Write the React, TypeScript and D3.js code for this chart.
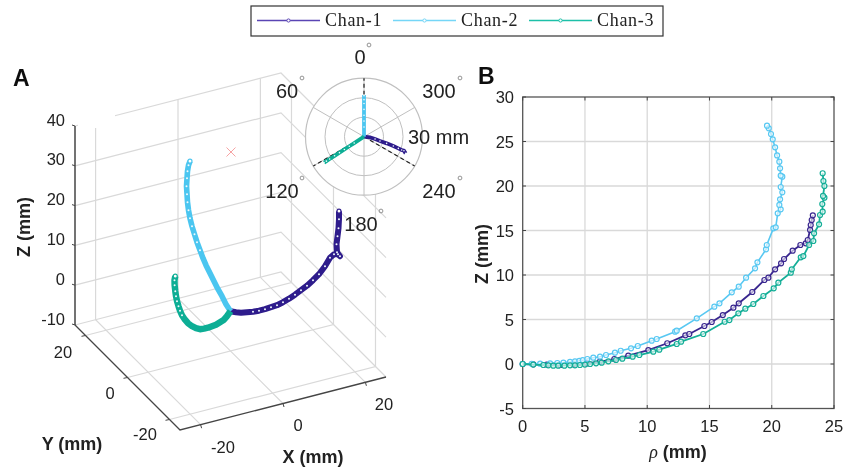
import React from "react";
import * as d3 from "d3";

// ---------- Panel B: rho / z series ----------
const chan1Rho = [0, 0.85, 1.93, 3, 4.07, 5.14, 6.2, 7.36, 8.48, 10.09, 11.61, 13.06, 13.38, 14.59, 15.18, 16.07, 16.92, 17.35, 18.44, 19.41, 19.73, 20.27, 20.75, 20.99, 21.68, 22.3, 22.73, 22.89, 23.08, 23.13, 23.21, 23.3];
const chan1Z = [0, -0.04, -0.07, -0.11, -0.04, 0.07, 0.26, 0.56, 0.93, 1.57, 2.33, 3.22, 3.37, 4.27, 4.72, 5.5, 6.33, 6.82, 8.09, 9.44, 9.7, 10.64, 11.31, 11.8, 12.73, 13.37, 13.56, 13.93, 15.06, 15.62, 16.18, 16.7];
const chan2Rho = [0, 0.72, 1.4, 2.2, 2.78, 3.27, 3.8, 4.2, 4.55, 4.82, 5.19, 5.67, 6.21, 6.69, 7.41, 7.87, 8.7, 9.24, 10.36, 10.76, 12.24, 12.37, 13.98, 15.39, 15.8, 16.79, 17.35, 17.94, 18.66, 18.85, 19.54, 19.6, 20.13, 20.32, 20.48, 20.72, 20.61, 20.67, 20.85, 20.72, 20.85, 20.72, 20.67, 20.61, 20.43, 20.27, 20.08, 19.94, 19.76, 19.62];
const chan2Z = [0, 0.03, 0.04, 0.07, 0.11, 0.15, 0.23, 0.3, 0.36, 0.43, 0.56, 0.71, 0.82, 1.01, 1.27, 1.49, 1.76, 2.02, 2.62, 2.81, 3.63, 3.74, 5.13, 6.44, 6.82, 8.05, 8.69, 9.7, 10.75, 11.42, 12.88, 13.37, 15.24, 15.36, 16.93, 17.38, 17.87, 18.5, 19.29, 19.89, 21.05, 21.16, 21.99, 22.73, 23.44, 24.34, 25.24, 25.84, 26.48, 26.78];
const chan3Rho = [0, 0.85, 1.66, 2.06, 2.46, 2.86, 3.35, 3.8, 4.2, 4.6, 5, 5.41, 5.89, 6.34, 6.88, 7.49, 8, 8.83, 9.37, 10.49, 10.97, 12.37, 12.72, 14.5, 16.22, 16.6, 17.32, 17.88, 18.52, 19.33, 20.16, 20.53, 21.53, 21.61, 22.33, 22.54, 23, 23.34, 23.4, 23.8, 23.88, 24.09, 24.06, 24.23, 24.12, 24.23, 24.15, 24.09];
const chan3Z = [0, -0.07, -0.11, -0.15, -0.19, -0.19, -0.19, -0.15, -0.15, -0.11, -0.07, 0, 0.08, 0.15, 0.3, 0.45, 0.6, 0.82, 1.01, 1.38, 1.61, 2.25, 2.51, 3.37, 4.75, 4.94, 5.69, 6.22, 6.74, 7.64, 8.5, 9.14, 10.26, 10.64, 11.99, 12.13, 13.37, 13.82, 14.68, 15.69, 16.74, 17.11, 17.98, 18.69, 18.88, 20, 20.56, 21.43];

// ---------- Panel A: 3-D series ----------
const a1X = [0, 1.16, 2.21, 3.47, 4.74, 6, 7.26, 8.53, 9.79, 11.05, 12.32, 13.58, 14.84, 16.11, 17.37, 18.63, 19.89, 20.95, 21.79, 22.63, 23.05, 22.42, 22.32, 22.53, 22.74, 22.84, 22.84];
const a1Y = [0, -0.35, -0.66, -1.04, -1.42, -1.8, -2.18, -2.56, -2.94, -3.32, -3.7, -4.07, -4.45, -4.83, -5.21, -5.59, -5.97, -6.28, -6.54, -6.79, -6.92, -6.73, -6.69, -6.76, -6.82, -6.85, -6.85];
const a1Z = [0, -0.38, -0.62, -0.63, -0.64, -0.52, -0.28, 0.08, 0.45, 1.07, 1.81, 2.68, 3.67, 4.67, 5.91, 7.28, 9.16, 11.18, 11.97, 11.88, 11.33, 12.4, 14.42, 16.41, 18.4, 20.65, 22.66];
const a2Y = [0, 2.14, 4.05, 5.95, 7.86, 9.76, 11.67, 13.1, 14.52, 15.95, 17.14, 18.33, 19.29, 20, 20.48, 20.71, 20.95, 20.71, 20.48, 20, 19.29];
const a2Z = [0, 0.63, 1.63, 2.39, 3.39, 4.4, 5.4, 6.41, 7.66, 8.92, 10.3, 11.68, 13.19, 14.82, 16.58, 18.47, 20.35, 22.49, 24.37, 26.13, 27.51];
const a3X = [0, -1.18, -2.19, -3.54, -4.89, -6.24, -7.59, -8.94, -10.29, -11.64, -12.98, -14.33, -15.35, -16.36, -17.03, -17.54, -18.04, -18.38, -18.62, -18.85, -18.89, -18.62];
const a3Y = [0, -0.65, -1.2, -1.95, -2.69, -3.43, -4.17, -4.92, -5.66, -6.4, -7.14, -7.88, -8.44, -9, -9.37, -9.65, -9.92, -10.11, -10.24, -10.37, -10.39, -10.24];
const a3Z = [0, -0.6, -0.92, -0.79, -0.67, -0.3, 0.08, 0.58, 1.2, 2.21, 3.45, 4.96, 6.41, 8.1, 9.6, 11.02, 12.55, 14, 15.39, 17.02, 18.3, 19.16];

// ---------- Polar inset ----------
const p1R = [0, 3.1, 5.8, 8.5, 12.1, 15.8, 18.6, 20.5, 21.7, 23];
const p1T = [264, 264, 258, 254.8, 253.6, 252.3, 251.2, 250.5, 250.7, 248.2];
const p2R = [0, 2, 5, 8, 11, 14, 17, 19, 21, 21.4];
const p2T = [0, 0, 0, 0, 0, 0, 0, 0, 0, 0];
const p3R = [0, 3, 6, 9, 12, 15, 18, 21, 23, 24.4];
const p3T = [123, 123, 123, 123, 123, 123, 123, 123, 123, 123];
const polarAngles = [0, 60, 120, 180, 240, 300];
const polarRings = [10, 20, 30];
const dashedAngles = [0, 120, 240];

// ---------- Ticks / labels ----------
const zTicksA = [-10, 0, 10, 20, 30, 40];
const xyTicksA = [-20, 0, 20];
const rhoTicks = [0, 5, 10, 15, 20, 25];
const zTicksB = [-5, 0, 5, 10, 15, 20, 25, 30];
const legendNames = ["Chan-1", "Chan-2", "Chan-3"];
const lineColors = ["#2f1c8c", "#4cc6f0", "#0dae95"];
const legendColors = ["#5a45b4", "#74d6f7", "#1cc0a8"];
const bColors = ["#39268f", "#58c8f2", "#12ae97"];

// ---------- Scales ----------
const rhoScale = d3.scaleLinear().domain([0, 25]).range([522.7, 834]);
const zScaleB = d3.scaleLinear().domain([-5, 30]).range([408.5, 97]);
const polarR = d3.scaleLinear().domain([0, 30]).range([0, 58.5]);
const polarCx = 364;
const polarCy = 136.7;

// oblique projection of panel A, expressed as linear scales
const xToPx = d3.scaleLinear().domain([-25, 25]).range([0, 206]);
const xToPy = d3.scaleLinear().domain([-25, 25]).range([0, -53]);
const yToPx = d3.scaleLinear().domain([-25, 25]).range([0, -105]);
const yToPy = d3.scaleLinear().domain([-25, 25]).range([0, -105]);
const zToPy = d3.scaleLinear().domain([-10, 40]).range([0, -199]);
const proj = (x: number, y: number, z: number): [number, number] => [
  180 + xToPx(x) + yToPx(y),
  430 + xToPy(x) + yToPy(y) + zToPy(z),
];
const line = d3.line();
const path3 = (pts: [number, number, number][]) => line(pts.map((p) => proj(p[0], p[1], p[2]))) as string;

const sans = "'Liberation Sans', Arial, sans-serif";
const serif = "'Liberation Serif', 'DejaVu Serif', serif";
const gridC = "#d9d9d9";
const axisC = "#444";

const series3: [number, number, number][][] = [
  a1X.map((x, i) => [x, a1Y[i], a1Z[i]]),
  a2Y.map((y, i) => [0, y, a2Z[i]]),
  a3X.map((x, i) => [x, a3Y[i], a3Z[i]]),
];
const seriesB: [number, number][][] = [
  chan1Rho.map((r, i) => [rhoScale(r), zScaleB(chan1Z[i])]),
  chan2Rho.map((r, i) => [rhoScale(r), zScaleB(chan2Z[i])]),
  chan3Rho.map((r, i) => [rhoScale(r), zScaleB(chan3Z[i])]),
];
const polarPoint = (r: number, t: number): [number, number] => {
  const [x, y] = d3.pointRadial((-t * Math.PI) / 180, polarR(r));
  return [polarCx + x, polarCy + y];
};
const seriesP: [number, number][][] = [
  p1R.map((r, i) => polarPoint(r, p1T[i])),
  p2R.map((r, i) => polarPoint(r, p2T[i])),
  p3R.map((r, i) => polarPoint(r, p3T[i])),
];
// first index of each 3-D series where the white marker centres become visible
const dotsFrom = [4, 8, 13];
const polarLabels: [string, number, number, number, number][] = [
  ["0", 360, 57, 369, 45],
  ["60", 287, 91, 302, 78],
  ["300", 439, 91, 460, 78],
  ["120", 282, 191, 302, 178],
  ["240", 439, 191, 460, 178],
  ["180", 361, 224, 381, 211],
];
const yLabelPos: [number, number][] = [[145, 434], [110, 393], [63, 352]];
const xLabelPos: [number, number][] = [[223, 447], [298, 425], [384, 404]];

export default function App() {
  return (
    <svg width={844} height={467} viewBox="0 0 844 467" style={{ position: "absolute", left: 0, top: 0, display: "block", background: "#fff" }}>
      <defs>
        <filter id="soft" x="0" y="0" width="100%" height="100%" filterUnits="objectBoundingBox">
          <feGaussianBlur stdDeviation={0.4} />
        </filter>
      </defs>
      <g filter="url(#soft)">
      <rect x={0} y={0} width={844} height={467} fill="#fff" />
      {/* Legend */}
      <rect x={251} y={6} width={412} height={30} fill="#fff" stroke="#333" strokeWidth={1.2} />
      {legendNames.map((n, i) => {
        const x0 = [257, 393, 529][i];
        return (
          <g key={n}>
            <line x1={x0} x2={x0 + 63} y1={20.5} y2={20.5} stroke={legendColors[i]} strokeWidth={1.6} />
            <circle cx={x0 + 31.5} cy={20.5} r={1.6} fill="#fff" stroke={legendColors[i]} strokeWidth={1} />
            <text x={x0 + 68} y={26} fontFamily={serif} fontSize={18} letterSpacing={0.7} fill="#222">{n}</text>
          </g>
        );
      })}

      {/* Panel letters */}
      <text x={13} y={86} fontFamily={sans} fontWeight="bold" fontSize={23} fill="#111">A</text>
      <text x={478} y={84} fontFamily={sans} fontWeight="bold" fontSize={23} fill="#111">B</text>

      {/* Panel A grid */}
      <g stroke={gridC} strokeWidth={1.2} fill="none">
        {zTicksA.map((z) => (
          <path key={z} d={path3([[-25, 25, z], [25, 25, z], [25, -25, z]])} />
        ))}
        {xyTicksA.map((x) => (
          <path key={"x" + x} d={path3([[x, -25, -10], [x, 25, -10], [x, 25, 40]])} />
        ))}
        {xyTicksA.map((y) => (
          <path key={"y" + y} d={path3([[-25, y, -10], [25, y, -10], [25, y, 40]])} />
        ))}
      </g>
      <rect x={78} y={95} width={37} height={33} fill="#fff" />

      {/* Panel A axes */}
      <g stroke={axisC} fill="none">
        <path d={path3([[-25, 25, -10], [-25, 25, 40]])} strokeWidth={1.5} />
        <path d={path3([[-25, 25, -10], [-25, -25, -10], [25, -25, -10]])} strokeWidth={1.3} />
        {zTicksA.map((z) => {
          const [x, y] = proj(-25, 25, z);
          return <line key={z} x1={x} y1={y} x2={x - 3} y2={y - 1} strokeWidth={1} />;
        })}
        {xyTicksA.map((v) => {
          const [x, y] = proj(-25, v, -10);
          return <line key={"ty" + v} x1={x} y1={y} x2={x - 4} y2={y + 0.8} strokeWidth={1} />;
        })}
        {xyTicksA.map((v) => {
          const [x, y] = proj(v, -25, -10);
          return <line key={"tx" + v} x1={x} y1={y} x2={x + 1} y2={y + 3.5} strokeWidth={1} />;
        })}
      </g>
      <g fontFamily={sans} fontSize={16.5} fill="#222">
        {zTicksA.map((z) => {
          const [, y] = proj(-25, 25, z);
          return <text key={z} x={65} y={y - 0.5} textAnchor="end">{z}</text>;
        })}
        {xyTicksA.map((v, i) => (
          <text key={"ly" + v} x={yLabelPos[i][0]} y={yLabelPos[i][1] + 6} textAnchor="middle">{v}</text>
        ))}
        {xyTicksA.map((v, i) => (
          <text key={"lx" + v} x={xLabelPos[i][0]} y={xLabelPos[i][1] + 6} textAnchor="middle">{v}</text>
        ))}
      </g>
      <g fontFamily={sans} fontSize={18} fontWeight="bold" fill="#222">
        <text transform="translate(30,227) rotate(-90)" textAnchor="middle">Z (mm)</text>
        <text x={72} y={450} textAnchor="middle">Y (mm)</text>
        <text x={313} y={463} textAnchor="middle">X (mm)</text>
      </g>

      {/* Red cross */}
      <path d="M226.5,147.5L235.5,156.5M235.5,147.5L226.5,156.5" stroke="#f6a3a3" strokeWidth={1} />

      {/* Panel A curves */}
      {series3.map((s, k) => {
        const pts = s.map((p) => proj(p[0], p[1], p[2]));
        const w = k === 0 ? 6 : k === 1 ? 5.6 : 6.4;
        return (
          <g key={k}>
            <path d={line(pts) as string} fill="none" stroke={lineColors[k]} strokeWidth={w} strokeLinejoin="round" />
            {pts.map((p, i) =>
              i >= dotsFrom[k] ? (
                <circle key={i} cx={p[0]} cy={p[1]} r={i === pts.length - 1 ? 2 : 1} fill={i === pts.length - 1 ? "#fff" : "#f0fafd"} stroke={lineColors[k]} strokeWidth={i === pts.length - 1 ? 1.2 : 0} />
              ) : null
            )}
          </g>
        );
      })}

      {/* Polar inset */}
      <circle cx={polarCx} cy={polarCy} r={polarR(30)} fill="#fff" />
      <g stroke="#c0c0c0" strokeWidth={1} fill="none">
        {polarRings.map((r) => (
          <circle key={r} cx={polarCx} cy={polarCy} r={polarR(r)} strokeWidth={r === 30 ? 1.2 : 1} />
        ))}
        {polarAngles.map((a) => {
          const [x, y] = polarPoint(30, a);
          return <line key={a} x1={polarCx} y1={polarCy} x2={x} y2={y} />;
        })}
      </g>
      {dashedAngles.map((a) => {
        const [x, y] = polarPoint(30, a);
        return <line key={a} x1={polarCx} y1={polarCy} x2={x} y2={y} stroke="#222" strokeWidth={1.2} strokeDasharray="4 3" />;
      })}
      {seriesP.map((s, k) => (
        <g key={k}>
          <path d={line(s) as string} fill="none" stroke={lineColors[k]} strokeWidth={3.8} />
          {s.slice(2).map((p, i) => (
            <circle key={i} cx={p[0]} cy={p[1]} r={0.8} fill="#eefafd" />
          ))}
        </g>
      ))}
      <g fontFamily={sans} fontSize={20} fill="#222">
        {polarLabels.map(([t, x, y, dx, dy]) => (
          <g key={t}>
            <text x={x} y={y + 7} textAnchor="middle">{t}</text>
            <circle cx={dx} cy={dy} r={1.9} fill="none" stroke="#888" strokeWidth={0.9} />
          </g>
        ))}
        <text x={408} y={144}>30 mm</text>
      </g>

      {/* Panel B */}
      <g stroke={gridC} strokeWidth={1.3}>
        {rhoTicks.slice(1, -1).map((t) => (
          <line key={t} x1={rhoScale(t)} x2={rhoScale(t)} y1={97} y2={408.5} />
        ))}
        {zTicksB.slice(1, -1).map((t) => (
          <line key={t} x1={522.7} x2={834} y1={zScaleB(t)} y2={zScaleB(t)} />
        ))}
      </g>
      <rect x={522.7} y={97} width={311.3} height={311.5} fill="none" stroke="#555" strokeWidth={1.3} />
      <g stroke="#444" strokeWidth={1}>
        {rhoTicks.map((t) => (
          <g key={t}>
            <line x1={rhoScale(t)} x2={rhoScale(t)} y1={408.5} y2={405} />
            <line x1={rhoScale(t)} x2={rhoScale(t)} y1={97} y2={100.5} />
          </g>
        ))}
        {zTicksB.map((t) => (
          <g key={t}>
            <line x1={522.7} x2={526} y1={zScaleB(t)} y2={zScaleB(t)} />
            <line x1={834} x2={830.5} y1={zScaleB(t)} y2={zScaleB(t)} />
          </g>
        ))}
      </g>
      <g fontFamily={sans} fontSize={16.5} fill="#222">
        {rhoTicks.map((t) => (
          <text key={t} x={rhoScale(t)} y={432} textAnchor="middle">{t}</text>
        ))}
        {zTicksB.map((t) => (
          <text key={t} x={514} y={zScaleB(t) + 6} textAnchor="end">{t}</text>
        ))}
      </g>
      <text transform="translate(488,254) rotate(-90)" textAnchor="middle" fontFamily={sans} fontSize={18} fontWeight="bold" fill="#222">Z (mm)</text>
      <text x={678} y={458} textAnchor="middle" fontFamily={sans} fontSize={18} fontWeight="bold" fill="#222">
        <tspan fontStyle="italic" fontWeight="normal" fontFamily={serif}>ρ</tspan> (mm)
      </text>
      {seriesB.map((s, k) => (
        <g key={k}>
          <path d={line(s) as string} fill="none" stroke={bColors[k]} strokeWidth={k === 1 ? 1.6 : 1.8} />
          {s.map((p, i) => (
            <circle key={i} cx={p[0]} cy={p[1]} r={2.5} fill="#fff" fillOpacity={0.6} stroke={bColors[k]} strokeWidth={1.2} />
          ))}
        </g>
      ))}
      </g>
    </svg>
  );
}
